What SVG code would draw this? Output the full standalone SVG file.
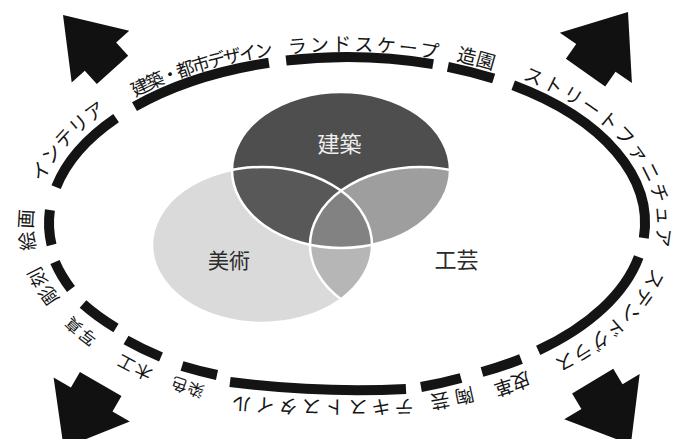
<svg xmlns="http://www.w3.org/2000/svg" xmlns:xlink="http://www.w3.org/1999/xlink" width="680" height="439" viewBox="0 0 680 439">
<style>
.lbl{font-family:"Noto Sans CJK JP","Noto Sans CJK SC",sans-serif;font-size:19px;fill:#151515;text-anchor:middle}
.bar{fill:none;stroke:#141414;stroke-width:10}
.vl{font-family:"Noto Sans CJK JP","Noto Sans CJK SC",sans-serif;text-anchor:middle}
.ol{fill:none;stroke:#fff;stroke-width:2.5}
</style>
<defs>
<path id="arrow" d="M0 0 L44 56 L24 56 L24 74 L-24 74 L-24 56 L-44 56 Z"/>
<ellipse id="e-ken" cx="341" cy="170" rx="109" ry="78"/>
<ellipse id="e-bi" cx="262" cy="245" rx="110" ry="78"/>
<ellipse id="e-kou" cx="420" cy="245" rx="110" ry="78"/>
<clipPath id="c-ken"><ellipse cx="341" cy="170" rx="109" ry="78"/></clipPath>
<clipPath id="c-bi"><ellipse cx="262" cy="245" rx="110" ry="78"/></clipPath>
<path id="p-kaiga" d="M36.3 249.4 A312 176 0 0 1 34.3 207.7"/>
<path id="p-interior" d="M42.9 182.6 A311 175 0 0 1 106.8 111.5"/>
<path id="p-kenchiku" d="M135.5 96.9 A309 173 0 0 1 271.3 56.0"/>
<path id="p-landscape" d="M288.2 54.0 A309 173 0 0 1 440.5 59.5"/>
<path id="p-zoen" d="M456.0 60.5 A311 175 0 0 1 492.9 70.1"/>
<path id="p-street" d="M521.7 79.0 A312 176 0 0 1 654.0 248.5"/>
<path id="p-stained" d="M652.5 267.9 A317 181 0 0 1 553.0 360.6"/>
<path id="p-hikaku" d="M526.9 371.2 A316 180 0 0 1 493.4 382.9"/>
<path id="p-tougei" d="M472.0 386.8 A314 178 0 0 1 424.2 396.2"/>
<path id="p-textile" d="M414 399.5 A2000 2000 0 0 1 228 396"/>
<path id="p-senshoku" d="M205.3 386.5 A317 181 0 0 1 173.1 376.1"/>
<path id="p-mokko" d="M153.9 369.5 A318 182 0 0 1 119.9 352.6"/>
<path id="p-shashin" d="M98.0 337.4 A317 181 0 0 1 70.4 314.4"/>
<path id="p-choukoku" d="M60.0 298.7 A314 178 0 0 1 39.3 264.6"/>
</defs>
<rect width="680" height="439" fill="#fff"/>

<g id="connectors" fill="#111">
<use href="#arrow" transform="translate(63,15) rotate(-42) scale(0.88,1)"/>
<use href="#arrow" transform="translate(628,12) rotate(35)"/>
<use href="#arrow" transform="translate(63.7,448) rotate(-150)"/>
<use href="#arrow" transform="translate(630.8,444.6) rotate(149)"/>
</g>

<g id="node-bijutsu">
<use href="#e-bi" fill="#dadada"/>
</g>
<g id="node-kenchiku">
<use href="#e-ken" fill="#4e4e4e"/>
<use href="#e-bi" fill="#585858" clip-path="url(#c-ken)"/>
</g>
<g id="node-kougei">
<g clip-path="url(#c-ken)"><use href="#e-kou" fill="#9e9e9e"/></g>
<g clip-path="url(#c-bi)"><use href="#e-kou" fill="#b6b6b6"/></g>
<g clip-path="url(#c-ken)"><g clip-path="url(#c-bi)"><use href="#e-kou" fill="#828282"/></g></g>
</g>
<g id="venn-outlines">
<use href="#e-ken" class="ol"/>
<use href="#e-bi" class="ol"/>
<use href="#e-kou" class="ol"/>
</g>
<g id="venn-labels">
<text class="vl" x="339.5" y="152.4" font-size="22" fill="#eeeeee">建築</text>
<text class="vl" x="229" y="268" font-size="21" fill="#2a2a2a">美術</text>
<text class="vl" x="456.5" y="268.4" font-size="22" fill="#2a2a2a">工芸</text>
</g>

<g id="ring-kaiga"><path class="bar" d="M51.6 245.0 A298 166 0 0 1 49.9 210.0"/><text class="lbl" style="letter-spacing:1.9px"><textPath href="#p-kaiga" startOffset="50%">絵画</textPath></text></g>
<g id="ring-interior"><path class="bar" d="M56.1 187.1 A298 166 0 0 1 116.1 118.1"/><text class="lbl" style="letter-spacing:0.4px"><textPath href="#p-interior" startOffset="50%">インテリア</textPath></text></g>
<g id="ring-kenchiku"><path class="bar" d="M134.5 106.7 A298 166 0 0 1 268.9 62.8"/><text class="lbl" style="font-size:18px;letter-spacing:-2.1px"><textPath href="#p-kenchiku" startOffset="50%">建築・都市デザイン</textPath></text></g>
<g id="ring-landscape"><path class="bar" d="M286.1 60.5 A298 166 0 0 1 433.1 64.1"/><text class="lbl" style="letter-spacing:2.9px"><textPath href="#p-landscape" startOffset="50%">ランドスケープ</textPath></text></g>
<g id="ring-zoen"><path class="bar" d="M447.9 66.8 A298 166 0 0 1 493.7 78.5"/><text class="lbl" style="letter-spacing:0.2px"><textPath href="#p-zoen" startOffset="50%">造園</textPath></text></g>
<g id="ring-street"><path class="bar" d="M513.2 85.2 A298 166 0 0 1 643.8 238.0"/><text class="lbl" style="letter-spacing:2.3px"><textPath href="#p-street" startOffset="50%">ストリートファニチュア</textPath></text></g>
<g id="ring-stained"><path class="bar" d="M638.7 257.0 A298 166 0 0 1 538.2 350.4"/><text class="lbl" style="letter-spacing:0.9px"><textPath href="#p-stained" startOffset="50%">ステンドグラス</textPath></text></g>
<g id="ring-hikaku"><path class="bar" d="M521 359 A298 166 0 0 1 482 372"/><text class="lbl" style="letter-spacing:-1px"><textPath href="#p-hikaku" startOffset="50%">皮革</textPath></text></g>
<g id="ring-tougei"><path class="bar" d="M461 378 A298 166 0 0 1 421 387"/><text class="lbl" style="letter-spacing:5.4px"><textPath href="#p-tougei" startOffset="50%">陶芸</textPath></text></g>
<g id="ring-textile"><path class="bar" d="M406 389 A1000 1000 0 0 1 230 382"/><text class="lbl" style="letter-spacing:4.2px"><textPath href="#p-textile" startOffset="50%">テキストスタイル</textPath></text></g>
<g id="ring-senshoku"><path class="bar" d="M217 375 A298 166 0 0 1 182 366"/><text class="lbl" style="font-size:16px;letter-spacing:1px"><textPath href="#p-senshoku" startOffset="50%">染色</textPath></text></g>
<g id="ring-mokko"><path class="bar" d="M161 357 A298 166 0 0 1 126 340"/><text class="lbl" style="font-size:17px;letter-spacing:2px"><textPath href="#p-mokko" startOffset="50%">木工</textPath></text></g>
<g id="ring-shashin"><path class="bar" d="M116 328 A298 166 0 0 1 83 304"/><text class="lbl" style="font-size:16px;letter-spacing:2px"><textPath href="#p-shashin" startOffset="50%">写真</textPath></text></g>
<g id="ring-choukoku"><path class="bar" d="M71 289 A298 166 0 0 1 55 262"/><text class="lbl" style="letter-spacing:1px"><textPath href="#p-choukoku" startOffset="50%">彫刻</textPath></text></g>
</svg>
